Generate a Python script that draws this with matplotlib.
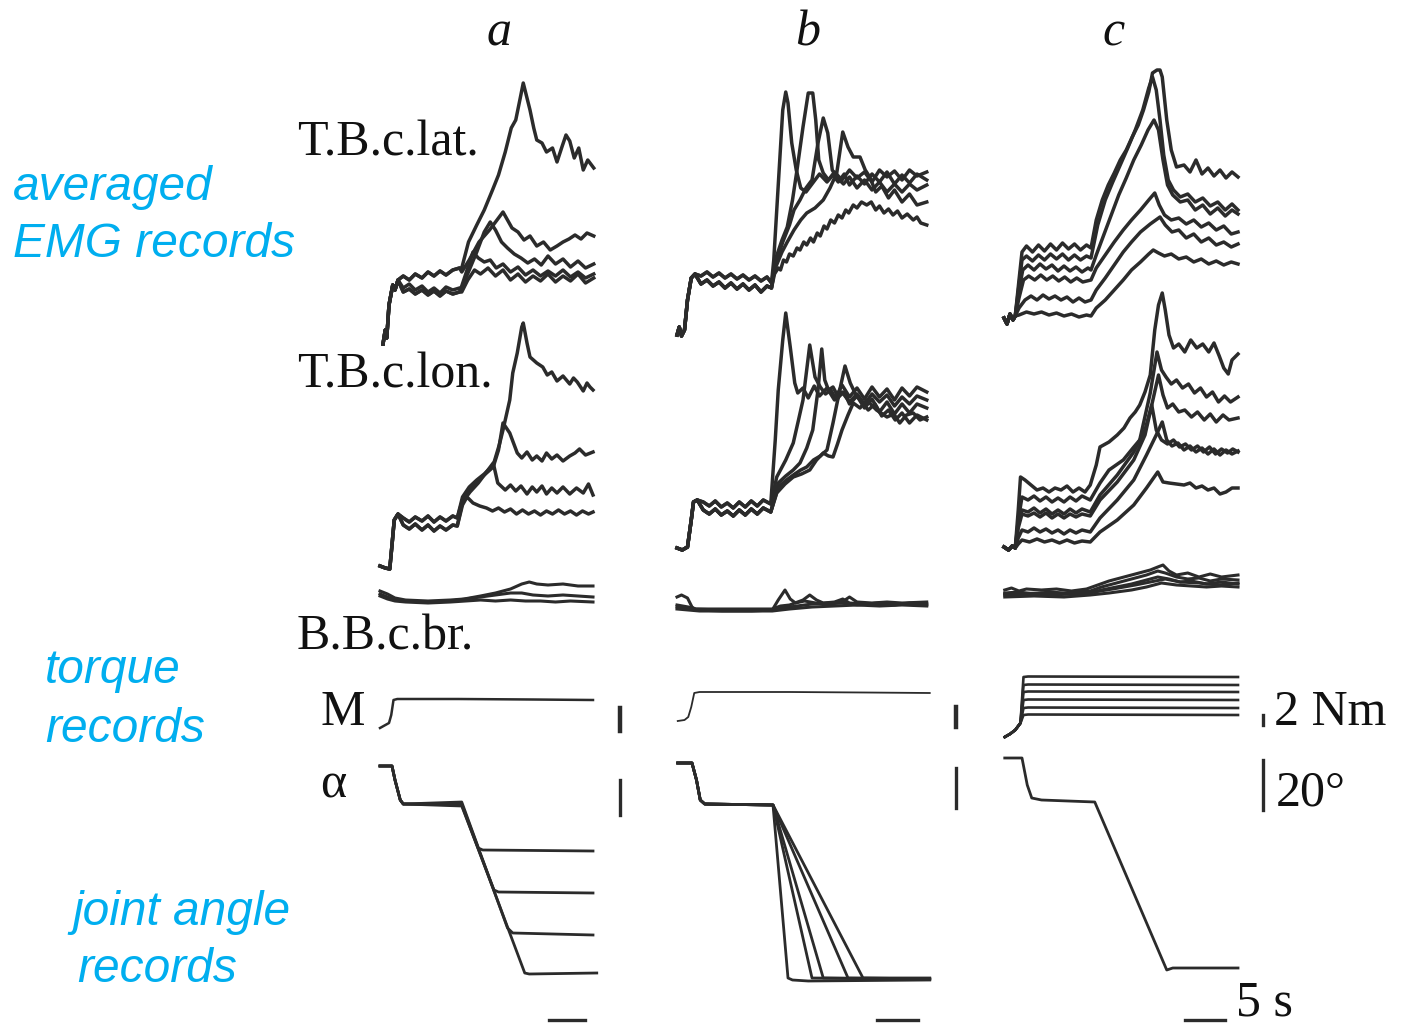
import matplotlib.pyplot as plt

W, H = 1403, 1025
PX_PER_S = 7.5          # time scale of the records (5 s bar)
INK = "#2b2b2b"
BLUE = "#00aeef"
SERIF = "Liberation Serif"
SANS = "Liberation Sans"

# ---------------- column a ----------------
lat_a_onset = [(0, 16), (0.3, 30), (0.5, 22), (0.8, 55), (1.3, 75), (1.6, 70), (2.0, 80)]
lat_a_hi = [(2.7, 84), (3.5, 80), (4.3, 86), (5.2, 82), (6.0, 88), (6.8, 84), (7.6, 89),
            (8.4, 85), (9.3, 90), (10.2, 92)]
lat_a_lo = [(2.7, 72), (3.5, 76), (4.3, 70), (5.2, 74), (6.0, 68), (6.8, 72), (7.6, 67),
            (8.4, 73), (9.3, 70), (10.2, 72)]
lat_a_lo2 = [(2.7, 68), (3.5, 71), (4.3, 66), (5.2, 70), (6.0, 65), (6.8, 69), (7.6, 64),
             (8.4, 69), (9.3, 66), (10.2, 68)]
lat_a = [
    lat_a_onset + lat_a_hi + [(10.5, 92), (11.4, 118), (12.5, 135), (13.5, 150), (14.6, 170),
                              (15.4, 185), (16.3, 208), (17.1, 232), (17.7, 240), (18.3, 262),
                              (18.7, 277), (19.1, 265), (19.6, 250), (20.1, 232), (20.5, 220),
                              (21.2, 217), (21.8, 208), (22.6, 212), (23.2, 198), (23.9, 214),
                              (24.4, 225), (24.9, 219), (25.5, 202), (26.1, 212), (26.7, 190),
                              (27.3, 200), (28.1, 192)],
    lat_a_onset + lat_a_hi + [(10.5, 88), (11.5, 100), (12.8, 118), (14.2, 130), (15.2, 140),
                              (16.0, 148), (16.6, 140), (17.2, 132), (18.0, 128), (18.8, 120),
                              (19.6, 124), (20.5, 114), (21.4, 118), (22.3, 110), (23.2, 114),
                              (24.0, 118), (24.8, 121), (25.6, 125), (26.4, 121), (27.2, 127),
                              (28.1, 124)],
    lat_a_onset + lat_a_lo + [(10.5, 72), (11.5, 90), (12.5, 108), (13.5, 128), (14.3, 138),
                              (15.0, 130), (15.8, 118), (16.6, 112), (17.5, 106), (18.4, 102),
                              (19.3, 97), (20.2, 101), (21.1, 95), (22.0, 104), (23.0, 96),
                              (24.0, 101), (25.0, 93), (26.0, 99), (27.0, 92), (28.1, 96)],
    lat_a_onset + lat_a_lo2 + [(10.5, 74), (11.3, 92), (12.0, 108), (12.7, 102), (13.5, 98),
                               (14.3, 100), (15.1, 92), (16.0, 96), (17.0, 88), (18.0, 93),
                               (19.0, 85), (20.0, 90), (21.0, 84), (22.0, 89), (23.0, 84),
                               (24.0, 90), (25.0, 83), (26.0, 88), (27.0, 82), (28.1, 86)],
    lat_a_onset + lat_a_lo2 + [(10.5, 68), (11.3, 80), (12.2, 90), (13.0, 86), (14.0, 92),
                               (15.0, 84), (16.0, 90), (17.0, 80), (18.0, 86), (19.0, 78),
                               (20.0, 84), (21.0, 79), (22.0, 86), (23.0, 78), (24.0, 84),
                               (25.0, 79), (26.0, 86), (27.0, 77), (28.1, 82)],
]

lon_a_onset = [(-0.4, 14), (0.3, 12), (0.9, 11), (1.2, 35), (1.5, 60), (2.0, 66)]
lon_a_hi = [(2.7, 62), (3.5, 58), (4.3, 63), (5.2, 59), (6.0, 64), (6.8, 58), (7.6, 63),
            (8.4, 59), (9.3, 64), (9.9, 62)]
lon_a_lo = [(2.7, 55), (3.5, 51), (4.3, 56), (5.2, 50), (6.0, 55), (6.8, 49), (7.6, 54),
            (8.4, 50), (9.3, 55), (9.9, 54)]
lon_a = [
    lon_a_onset + lon_a_hi + [(10.6, 83), (11.5, 93), (12.5, 100), (13.5, 106), (14.7, 115),
                              (15.5, 135), (16.0, 150), (16.9, 180), (17.3, 207), (17.9, 227),
                              (18.5, 253), (18.7, 257), (19.2, 237), (19.6, 223), (20.5, 217),
                              (21.3, 213), (21.9, 205), (22.5, 208), (23.2, 199), (24.0, 204),
                              (24.9, 196), (25.4, 202), (25.9, 198), (26.7, 189), (27.2, 197),
                              (27.6, 193), (28.0, 190)],
    lon_a_onset + lon_a_hi + [(10.6, 80), (11.5, 90), (12.5, 98), (13.5, 105), (14.7, 113),
                              (15.4, 130), (16.0, 157), (16.9, 147), (17.9, 127), (18.5, 122),
                              (19.2, 128), (19.9, 120), (20.5, 124), (21.2, 119), (21.8, 127),
                              (22.5, 121), (23.2, 125), (24.0, 119), (24.9, 124), (25.6, 127),
                              (26.2, 131), (27.0, 125), (28.0, 128)],
    lon_a_onset + lon_a_lo + [(10.6, 78), (11.6, 88), (12.7, 97), (13.8, 108), (14.7, 117),
                              (15.3, 97), (16.3, 90), (17.0, 95), (17.7, 89), (18.4, 94),
                              (19.2, 86), (19.9, 93), (20.5, 88), (21.2, 94), (21.8, 86),
                              (22.5, 92), (23.2, 87), (24.0, 93), (24.9, 86), (25.8, 92),
                              (26.7, 87), (27.4, 96), (28.0, 85)],
    lon_a_onset + lon_a_lo + [(10.6, 75), (11.2, 83), (12.0, 77), (12.9, 74), (13.8, 72),
                              (14.6, 69), (15.4, 72), (16.2, 68), (17.0, 71), (17.8, 66),
                              (18.6, 70), (19.4, 66), (20.2, 69), (21.0, 65), (21.8, 69),
                              (22.6, 66), (23.4, 70), (24.2, 66), (25.0, 69), (25.8, 65),
                              (26.6, 69), (27.4, 66), (28.0, 68)],
]

bb_a = [
    [(-0.4, 24), (0.6, 21), (1.6, 17), (3, 15), (6, 14), (9, 15), (10.8, 16), (13, 19), (15, 22),
     (17, 26), (18.5, 31), (19.5, 33), (20.5, 31), (22, 30), (24, 31), (26, 29), (28, 29)],
    [(-0.4, 21), (0.6, 18), (1.6, 15), (3, 14), (6, 13), (9, 14), (11, 16), (13, 18), (15, 20),
     (17, 22), (18.5, 22), (20, 20), (22, 19), (24, 20), (26, 19), (28, 18)],
    [(-0.4, 19), (0.6, 16), (1.6, 14), (3, 13), (6, 12), (9, 13), (11, 14), (13, 15), (15, 14),
     (17, 15), (19, 14), (21, 14), (23, 13), (25, 14), (28, 13)],
]

torque_a = [[(-0.4, 17), (0.8, 22), (1.1, 30), (1.4, 45), (1.9, 46), (10, 46), (20, 45.5), (28, 45)]]

angle_a_start = [(-0.4, 259), (1.2, 259), (1.6, 245), (2.3, 225), (2.7, 221)]
angle_a = [
    angle_a_start + [(10.5, 221), (12.7, 177), (13.3, 175), (28, 174)],
    angle_a_start + [(10.5, 219), (14.8, 135), (15.4, 133), (28, 132)],
    angle_a_start + [(10.5, 223), (16.6, 97), (17.3, 92), (28, 90)],
    angle_a_start + [(10.5, 220), (18.9, 52), (19.5, 51), (28.5, 52)],
]

# ---------------- column b ----------------
lat_b_onset = [(0, 25), (0.3, 33), (0.6, 24), (1.0, 30), (1.4, 60), (1.9, 82), (2.4, 86)]
lat_b_hi = [(3.2, 84), (4.0, 88), (4.8, 83), (5.6, 87), (6.4, 82), (7.2, 86), (8.0, 81),
            (8.8, 85), (9.6, 80), (10.4, 84), (11.2, 79), (12.0, 83), (12.6, 77)]
lat_b_lo = [(3.2, 76), (4.0, 80), (4.8, 74), (5.6, 78), (6.4, 72), (7.2, 77), (8.0, 71),
            (8.8, 76), (9.6, 70), (10.4, 75), (11.2, 68), (12.0, 74), (12.6, 72)]
lat_b = [
    lat_b_onset + lat_b_hi + [(12.9, 100), (13.3, 150), (13.7, 200), (14.1, 250), (14.5, 268),
                              (14.8, 257), (15.3, 217), (15.9, 190), (16.5, 172), (17.2, 168),
                              (18, 176), (19, 186), (20, 178), (21, 188), (22, 180), (23, 190),
                              (24, 182), (25, 188), (26, 178), (27, 190), (28, 183), (29, 189),
                              (30, 180), (31, 190), (32, 184), (33.3, 188)],
    lat_b_onset + lat_b_hi + [(13.1, 100), (14.0, 120), (14.7, 133), (15.4, 160), (16.0, 190),
                              (16.8, 233), (17.5, 267), (18.1, 267), (18.5, 240), (18.9, 200),
                              (19.5, 187), (20.2, 180), (20.8, 185), (21.5, 178), (22.3, 186),
                              (23, 175), (24, 184), (25, 176), (26, 186), (27, 178), (28, 188),
                              (29, 176), (30, 185), (31, 177), (32, 186), (33.3, 180)],
    lat_b_onset + lat_b_lo + [(13.0, 92), (14.1, 118), (15.0, 135), (15.6, 150), (16.4, 160),
                              (17.2, 172), (18.0, 180), (18.8, 217), (19.5, 242), (20.1, 227),
                              (20.7, 190), (21.4, 182), (22.2, 176), (23, 183), (24, 172),
                              (25, 180), (26, 170), (27, 178), (28, 168), (29, 176), (30, 168),
                              (31, 176), (32, 170), (33.3, 175)],
    lat_b_onset + lat_b_lo + [(13.0, 90), (14.0, 108), (14.7, 118), (15.6, 130), (16.5, 140),
                              (17.3, 147), (18.4, 152), (19.5, 160), (20.4, 172), (21.3, 187),
                              (22.1, 228), (22.8, 213), (23.5, 203), (24.4, 203), (25.1, 190),
                              (25.7, 183), (26.5, 168), (27.3, 174), (28.2, 162), (29, 170),
                              (30, 158), (31, 166), (32, 155), (33.3, 158)],
    lat_b_onset + lat_b_lo + [(13.0, 86), (13.5, 92), (13.8, 90), (14.2, 100), (14.6, 98),
                              (15.0, 106), (15.5, 104), (16.0, 112), (16.4, 110), (16.9, 118),
                              (17.3, 115), (17.8, 122), (18.2, 118), (18.7, 127), (19.1, 124),
                              (19.6, 134), (20, 131), (20.5, 140), (21, 137), (21.5, 145),
                              (22, 142), (22.5, 150), (22.9, 147), (23.5, 155), (24, 152),
                              (24.6, 158), (25.3, 155), (25.9, 158), (26.5, 150), (27, 154),
                              (27.6, 147), (28.2, 151), (28.8, 145), (29.4, 149), (30, 142),
                              (30.7, 146), (31.5, 140), (32, 143), (32.5, 137), (33.3, 135)],
]

lon_b_onset = [(0, 32), (0.7, 30), (1.4, 33), (1.9, 60), (2.2, 78), (2.7, 80)]
lon_b_hi = [(3.5, 78), (4.3, 74), (5.1, 79), (5.9, 73), (6.7, 77), (7.5, 72), (8.3, 78),
            (9.1, 73), (9.9, 79), (10.7, 74), (11.5, 80), (12.5, 76)]
lon_b_lo = [(3.5, 70), (4.3, 66), (5.1, 71), (5.9, 65), (6.7, 69), (7.5, 64), (8.3, 70),
            (9.1, 65), (9.9, 71), (10.7, 66), (11.5, 72), (12.5, 68)]
lon_b = [
    lon_b_onset + lon_b_hi + [(13.1, 140), (13.5, 190), (14.1, 240), (14.5, 267), (15.1, 233),
                              (15.7, 197), (16.1, 187), (16.8, 192), (17.5, 182), (18.3, 194),
                              (19, 184), (20, 192), (21, 180), (22, 195), (23, 183), (24, 192),
                              (25, 181), (26, 193), (27, 183), (28, 191), (29, 180), (30, 192),
                              (31, 184), (32, 193), (33.3, 188)],
    lon_b_onset + lon_b_hi + [(13.3, 103), (14.5, 120), (15.5, 137), (16.2, 160), (16.8, 180),
                              (17.7, 235), (18.4, 203), (19.1, 193), (19.8, 186), (20.5, 190),
                              (21.3, 180), (22, 188), (23, 178), (24, 186), (25, 176), (26, 186),
                              (27, 178), (28, 185), (29, 174), (30, 183), (31, 176), (32, 184),
                              (33.3, 180)],
    lon_b_onset + lon_b_lo + [(13.5, 97), (14.5, 104), (15.5, 110), (16.4, 117), (17.3, 132),
                              (18.1, 150), (18.8, 190), (19.3, 231), (19.7, 200), (20.2, 190),
                              (20.8, 193), (21.5, 183), (22.3, 188), (23, 176), (24, 184),
                              (25, 172), (26, 181), (27, 168), (28, 178), (29, 166), (30, 176),
                              (31, 167), (32, 176), (33.3, 172)],
    lon_b_onset + lon_b_lo + [(13.5, 93), (14.6, 100), (15.7, 106), (16.5, 110), (17.3, 113),
                              (18.2, 120), (19.1, 124), (20, 130), (20.8, 157), (21.7, 190),
                              (22.4, 214), (23.1, 197), (23.8, 186), (24.6, 178), (25.5, 170),
                              (26.4, 176), (27.3, 164), (28.2, 170), (29.1, 160), (30, 167),
                              (31, 157), (32, 165), (33.3, 160)],
    lon_b_onset + lon_b_lo + [(13.3, 87), (14.4, 96), (15.5, 103), (16.6, 106), (17.7, 110),
                              (18.6, 120), (19.5, 127), (20.2, 124), (20.8, 123), (21.4, 136),
                              (22, 150), (22.8, 165), (23.5, 177), (24.4, 172), (25.3, 180),
                              (26.6, 170), (28, 163), (28.9, 166), (29.7, 157), (30.6, 165),
                              (31.5, 167), (32.4, 160), (33.3, 163)],
]

bb_b = [
    [(0, 18), (0.6, 20), (1.4, 17), (2.0, 8), (2.6, 5), (6, 4), (10, 4), (12.7, 5), (13.5, 15),
     (14.4, 25), (15.1, 16), (15.8, 12), (17, 14), (18.5, 12), (20, 11), (22, 12), (24, 10),
     (26, 11), (28, 10), (30, 11), (33.3, 10)],
    [(0, 10), (1.5, 8), (2.5, 6), (6, 6), (10, 6), (12.7, 6), (13.8, 9), (15, 10), (16.8, 15),
     (17.7, 20), (18.6, 15), (19.5, 12), (21, 13), (22.1, 16), (23, 12), (25, 11), (27, 12),
     (29, 10), (31, 12), (33.3, 11)],
    [(0, 8), (2, 6), (6, 5), (12.7, 5), (14, 7), (16, 9), (18, 11), (20, 12), (22, 13), (23, 18),
     (24, 13), (26, 12), (28, 13), (30, 12), (33.3, 13)],
    [(0, 6), (3, 4), (12.7, 4), (15, 6), (18, 8), (21, 9), (24, 10), (27, 9), (30, 10), (33.3, 9)],
]

torque_b = [[(0.1, 24), (1.0, 25), (1.5, 28), (1.9, 38), (2.3, 52), (3.0, 53), (15, 53),
             (25, 52.5), (33.7, 52)]]

angle_b_start = [(0.1, 262), (2.0, 262), (2.6, 245), (3.1, 225), (3.7, 221), (12.8, 220)]
angle_b = [
    angle_b_start + [(14.8, 47), (15.4, 45), (17.5, 44), (33.7, 45)],
    angle_b_start + [(18.0, 47), (33.7, 46)],
    angle_b_start + [(19.5, 47), (33.7, 46)],
    angle_b_start + [(22.8, 47), (33.7, 47)],
    angle_b_start + [(24.8, 47), (33.7, 46)],
]

# ---------------- column c ----------------
lat_c_onset = [(0, 42), (0.4, 36), (0.8, 46), (1.2, 40), (1.5, 44)]
lat_c = [
    lat_c_onset + [(2.0, 80), (2.4, 108), (3.0, 114), (3.8, 108), (4.6, 115), (5.4, 109),
                   (6.2, 116), (7.0, 110), (7.8, 117), (8.6, 111), (9.4, 116), (10.2, 110),
                   (11.0, 115), (11.6, 112), (12.3, 140), (13.1, 160), (13.9, 175), (14.7, 187),
                   (15.5, 200), (16.3, 210), (17.1, 223), (17.9, 235), (18.6, 250), (19.3, 268),
                   (19.8, 287), (20.4, 290), (20.8, 290), (21.1, 283), (21.7, 240), (22.3, 210),
                   (23, 193), (24, 195), (24.8, 188), (25.6, 200), (26.4, 186), (27.2, 192),
                   (28, 184), (28.8, 190), (29.6, 182), (30.4, 188), (31.2, 183)],
    lat_c_onset + [(2.0, 75), (2.4, 100), (3.0, 104), (3.8, 99), (4.6, 105), (5.4, 100),
                   (6.2, 106), (7.0, 101), (7.8, 106), (8.6, 100), (9.4, 105), (10.2, 100),
                   (11.0, 104), (11.6, 102), (12.5, 135), (13.5, 160), (14.5, 178), (15.5, 195),
                   (16.5, 212), (17.5, 230), (18.5, 250), (19.3, 272), (19.8, 283), (20.3, 270),
                   (20.8, 240), (21.3, 205), (21.9, 180), (22.6, 170), (23.5, 163), (24.5, 166),
                   (25.5, 158), (26.5, 162), (27.5, 154), (28.5, 158), (29.5, 150), (30.4, 156),
                   (31.2, 150)],
    lat_c_onset + [(2.0, 70), (2.5, 90), (3.2, 95), (4.0, 90), (4.8, 96), (5.6, 91), (6.4, 95),
                   (7.2, 89), (8.0, 94), (8.8, 89), (9.6, 93), (10.4, 88), (11.2, 92), (11.6, 90),
                   (12.3, 105), (13.3, 125), (14.3, 145), (15.3, 165), (16.3, 182), (17.3, 200),
                   (18.3, 215), (19.2, 230), (20.0, 240), (20.6, 230), (21.2, 200), (21.8, 175),
                   (22.5, 165), (23.5, 158), (24.5, 160), (25.5, 150), (26.5, 155), (27.5, 146),
                   (28.5, 152), (29.5, 144), (30.4, 150), (31.2, 146)],
    lat_c_onset + [(2.0, 62), (2.6, 80), (3.3, 84), (4.1, 80), (4.9, 85), (5.7, 80), (6.5, 84),
                   (7.3, 79), (8.1, 83), (8.9, 78), (9.7, 82), (10.5, 78), (11.6, 80), (12.3, 92),
                   (13.5, 105), (14.7, 118), (15.9, 130), (17, 140), (18.2, 150), (19.3, 160),
                   (20.1, 167), (20.7, 155), (21.4, 145), (22.3, 140), (23.3, 142), (24.3, 136),
                   (25.3, 140), (26.3, 133), (27.3, 137), (28.3, 130), (29.3, 134), (30.3, 126),
                   (31.2, 128)],
    lat_c_onset + [(2.0, 52), (2.8, 60), (3.6, 64), (4.4, 60), (5.2, 65), (6.0, 61), (6.8, 64),
                   (7.6, 60), (8.4, 63), (9.2, 58), (10.0, 62), (10.8, 58), (11.6, 60), (12.3, 70),
                   (13.5, 82), (14.7, 95), (15.9, 108), (17, 118), (18.2, 128), (19.5, 136),
                   (20.8, 143), (21.5, 135), (22.4, 128), (23.3, 130), (24.3, 122), (25.3, 126),
                   (26.3, 118), (27.3, 122), (28.3, 115), (29.3, 118), (30.3, 113), (31.2, 116)],
    lat_c_onset + [(2.0, 45), (3.0, 48), (4.0, 46), (5.0, 48), (6.0, 45), (7.0, 47), (8.0, 44),
                   (9.0, 46), (10.0, 43), (11.0, 45), (11.6, 44), (12.3, 52), (13.5, 60),
                   (14.7, 70), (15.9, 80), (17, 90), (18.2, 98), (19.3, 106), (19.9, 110),
                   (20.6, 107), (21.4, 104), (22.3, 106), (23.3, 101), (24.3, 103), (25.3, 98),
                   (26.3, 101), (27.3, 96), (28.3, 99), (29.3, 95), (30.3, 98), (31.2, 96)],
]

lon_c_onset = [(0, 33), (0.6, 30), (1.1, 34), (1.5, 32)]
lon_c = [
    lon_c_onset + [(1.9, 70), (2.2, 103), (2.8, 100), (3.6, 95), (4.4, 90), (5.2, 92), (6.0, 88),
                   (6.8, 92), (7.6, 90), (8.4, 94), (9.2, 88), (10.0, 92), (10.8, 88), (11.5, 95),
                   (12.3, 115), (12.8, 133), (14, 138), (15.1, 145), (16, 152), (16.8, 162),
                   (17.5, 168), (18.1, 175), (18.8, 188), (19.5, 205), (20.1, 250), (20.6, 275),
                   (21.1, 287), (21.5, 270), (22, 245), (22.6, 232), (23.3, 236), (24.1, 228),
                   (24.9, 240), (25.7, 232), (26.5, 236), (27.3, 228), (28, 237), (28.7, 224),
                   (29.3, 212), (29.9, 206), (30.4, 220), (31.2, 226)],
    lon_c_onset + [(1.9, 60), (2.4, 83), (3.2, 80), (4, 84), (4.8, 79), (5.6, 83), (6.4, 78),
                   (7.2, 82), (8, 78), (8.8, 83), (9.6, 79), (10.4, 84), (11.5, 80), (12.8, 97),
                   (14, 110), (15.9, 120), (17.2, 132), (18.1, 140), (19.5, 187), (20.4, 228),
                   (21, 210), (21.6, 203), (22.3, 196), (23, 200), (23.8, 192), (24.6, 196),
                   (25.4, 187), (26.2, 192), (27, 183), (27.8, 188), (28.6, 178), (29.4, 184),
                   (30.2, 178), (31.2, 183)],
    lon_c_onset + [(1.9, 55), (2.4, 70), (3.2, 68), (4, 72), (4.8, 67), (5.6, 71), (6.4, 66),
                   (7.2, 70), (8, 66), (8.8, 71), (9.6, 67), (10.4, 71), (11.5, 68), (12.8, 85),
                   (15.1, 105), (17.3, 128), (18.8, 150), (19.7, 175), (20.6, 205), (21.2, 185),
                   (21.8, 172), (22.5, 176), (23.3, 168), (24.1, 170), (25, 163), (25.8, 168),
                   (26.7, 160), (27.5, 166), (28.3, 158), (29.2, 165), (30, 160), (31.2, 162)],
    lon_c_onset + [(1.9, 52), (2.4, 66), (3.2, 64), (4, 67), (4.8, 63), (5.6, 67), (6.4, 62),
                   (7.2, 66), (8, 62), (8.8, 66), (9.6, 63), (10.4, 66), (11.5, 64), (12.8, 80),
                   (15.1, 98), (17.3, 120), (18.8, 145), (19.7, 175), (20.3, 150), (21, 140),
                   (21.8, 136), (22.6, 140), (23.4, 133), (24.2, 136), (25, 130), (25.8, 134),
                   (26.6, 128), (27.4, 133), (28.2, 126), (29, 131), (29.8, 127), (30.5, 131),
                   (31.2, 128)],
    lon_c_onset + [(1.9, 42), (2.4, 50), (3.2, 48), (4, 52), (4.8, 48), (5.6, 51), (6.4, 47),
                   (7.2, 50), (8, 46), (8.8, 50), (9.6, 47), (10.4, 50), (11.5, 48), (12.8, 62),
                   (15.1, 80), (17.3, 100), (19, 125), (20.3, 145), (21.1, 158), (21.7, 140),
                   (22.4, 134), (23.2, 137), (24, 130), (24.8, 134), (25.6, 128), (26.4, 132),
                   (27.2, 126), (28, 131), (28.8, 125), (29.6, 130), (30.4, 126), (31.2, 129)],
    lon_c_onset + [(1.9, 36), (2.4, 40), (3.4, 38), (4.4, 41), (5.4, 38), (6.4, 40), (7.4, 37),
                   (8.4, 40), (9.4, 37), (10.4, 39), (11.5, 38), (12.8, 48), (15.1, 60),
                   (17.3, 75), (19, 92), (20.5, 108), (21.2, 98), (22, 97), (23, 96), (24, 95),
                   (24.8, 97), (25.6, 92), (26.4, 94), (27.2, 90), (28, 92), (28.8, 86),
                   (29.6, 88), (30.4, 92), (31.2, 92)],
]

bb_c = [
    [(0.1, 25), (1, 27), (2, 24), (3, 26), (5, 25), (7, 26), (9, 24), (11, 26), (12.5, 30),
     (14, 34), (16, 38), (18, 42), (19.5, 45), (20.5, 48), (21.2, 50), (22, 44), (23, 40),
     (24.5, 42), (26, 38), (27.5, 41), (29, 38), (31.2, 40)],
    [(0.1, 22), (2, 23), (4, 21), (6, 23), (8, 22), (10, 23), (11.5, 24), (13, 28), (15, 32),
     (17, 36), (19, 40), (20.5, 44), (21.5, 42), (23, 38), (24.5, 36), (26, 37), (27.5, 34),
     (29, 36), (31.2, 35)],
    [(0.1, 20), (3, 21), (6, 20), (9, 21), (11.5, 22), (13, 25), (15, 28), (17, 31), (19, 35),
     (20.5, 38), (22, 36), (23.5, 33), (25, 34), (27, 31), (29, 33), (31.2, 31)],
    [(0.1, 18), (4, 19), (8, 18), (11.5, 20), (14, 22), (17, 25), (19, 28), (21, 32), (23, 30),
     (25, 29), (27, 28), (29, 29), (31.2, 28)],
    [(0.1, 21), (5, 22), (10, 21), (12, 23), (14.5, 26), (17.5, 30), (19.5, 33), (21.5, 36),
     (23.5, 33), (26, 32), (28.5, 30), (31.2, 32)],
]

torque_c_start = [(0.1, 8), (0.8, 11), (1.5, 15), (2.2, 22)]
torque_c_levels = [68, 60, 53, 45, 37, 30]
torque_c = [torque_c_start + [(2.6, lv), (3.2, lv + 0.5), (31.2, lv)] for lv in torque_c_levels]

angle_c = [[(0.1, 267), (2.4, 267), (3.1, 240), (3.7, 227), (5, 225), (12.1, 223), (21.7, 55),
            (22.5, 57), (31.2, 57)]]

# calibration bars: (time, from, to)
torque_bars = {"a": (31.6, 14, 37), "b": (37.2, 18, 38), "c": (34.5, 20, 30)}
angle_bars = {"a": (31.6, 210, 245), "b": (37.2, 217, 257), "c": (34.5, 215, 265)}
time_bars = {"a": (22.1, 26.9), "b": (26.7, 32.1), "c": (24.1, 29.5)}

# ---------------- layout ----------------
columns = {"a": (370, 640, 383), "b": (665, 975, 677), "c": (990, 1285, 1004)}
rows = {"lat": (50, 360), "lon": (280, 580), "bb": (560, 615), "M": (660, 745), "alpha": (750, 1025)}
records = {
    "a": {"lat": lat_a, "lon": lon_a, "bb": bb_a, "M": torque_a, "alpha": angle_a},
    "b": {"lat": lat_b, "lon": lon_b, "bb": bb_b, "M": torque_b, "alpha": angle_b},
    "c": {"lat": lat_c, "lon": lon_c, "bb": bb_c, "M": torque_c, "alpha": angle_c},
}
widths = {"lat": 2.5, "lon": 2.5, "bb": 2.2, "M": 1.8, "alpha": 2.0}
torque_width = {"a": 1.8, "b": 1.3, "c": 1.9}

fig = plt.figure(figsize=(W / 100, H / 100), dpi=100)

for col, (xl, xr, x0) in columns.items():
    axes = {}
    for row, (top, bottom) in rows.items():
        ax = fig.add_axes([xl / W, 1 - bottom / H, (xr - xl) / W, (bottom - top) / H])
        ax.set_xlim((xl - x0) / PX_PER_S, (xr - x0) / PX_PER_S)
        ax.set_ylim(0, bottom - top)
        ax.axis("off")
        ax.patch.set_alpha(0)
        lw = torque_width[col] if row == "M" else widths[row]
        for trace in records[col][row]:
            t, v = zip(*trace)
            ax.plot(t, v, color=INK, lw=lw, solid_joinstyle="round", clip_on=False)
        axes[row] = ax
    tb, lo, hi = torque_bars[col]
    axes["M"].plot([tb, tb], [lo, hi], color=INK, lw=3.2 if col != "c" else 2.4, clip_on=False)
    ab, lo, hi = angle_bars[col]
    axes["alpha"].plot([ab, ab], [lo, hi], color=INK, lw=2.4, clip_on=False)
    t1, t2 = time_bars[col]
    axes["alpha"].plot([t1, t2], [5, 5], color=INK, lw=2.4, clip_on=False)


def label(x, y, s, **kw):
    fig.text(x / W, 1 - y / H, s, va="baseline", ha="left", **kw)


# column titles
for s, x in [("a", 487), ("b", 795), ("c", 1102)]:
    label(x, 45, s, family=SERIF, style="italic", fontsize=36, color="#111111")

# trace names
for s, x, y in [("T.B.c.lat.", 297, 155), ("T.B.c.lon.", 297, 388), ("B.B.c.br.", 297, 650),
                ("M", 320, 725), ("α", 320, 797)]:
    label(x, y, s, family=SERIF, fontsize=36, color="#111111")

# calibration texts
label(1274, 725, "2 Nm", family=SERIF, fontsize=36, color="#111111")
label(1276, 805, "20°", family=SERIF, fontsize=36, color="#111111")
label(1236, 1015, "5 s", family=SERIF, fontsize=36, color="#111111")

# blue annotations
for s, x, y in [("averaged", 13, 200), ("EMG records", 13, 257), ("torque", 45, 683),
                ("records", 45, 742), ("joint angle", 72, 925), ("records", 77, 982)]:
    label(x, y, s, family=SANS, style="italic", fontsize=34.5, color=BLUE)

fig.savefig("out.png", dpi=100, facecolor="white")
